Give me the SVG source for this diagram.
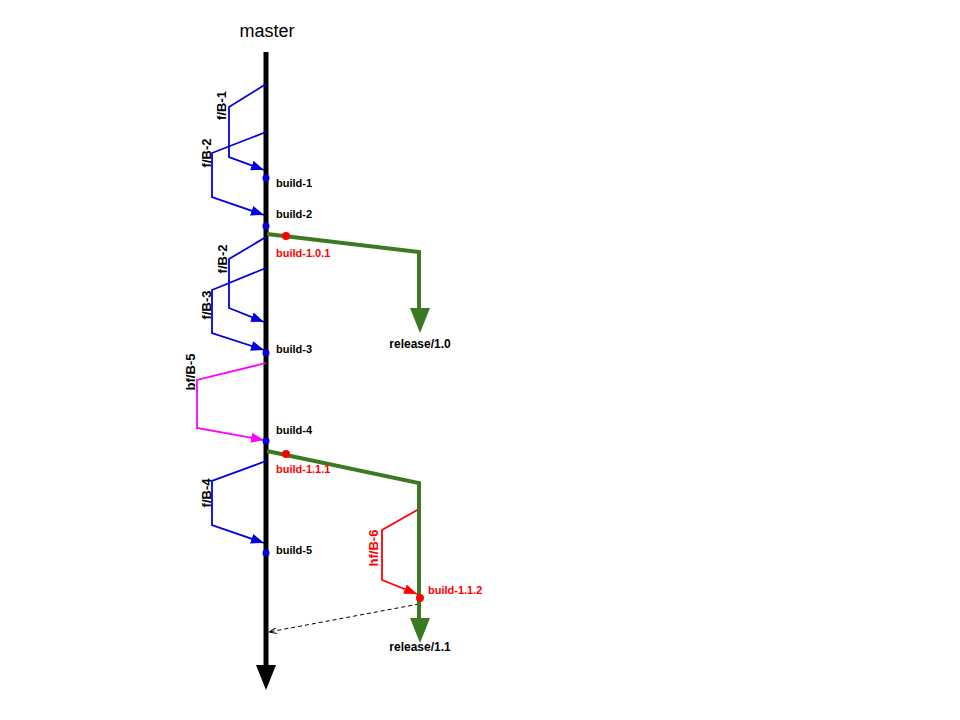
<svg xmlns="http://www.w3.org/2000/svg" width="960" height="720" viewBox="0 0 960 720">
<style>
.lbl{font-family:"Liberation Sans",Arial,sans-serif;font-weight:bold;font-size:11px;fill:#000}
.red{fill:#ff0000}
.rot{font-family:"Liberation Sans",Arial,sans-serif;font-weight:bold;font-size:13px;text-anchor:middle}
.rel{font-family:"Liberation Sans",Arial,sans-serif;font-weight:bold;font-size:12px;text-anchor:middle;fill:#000}
.blue{fill:none;stroke:#0000e0;stroke-width:1.8}
.mag{fill:none;stroke:#ff00ff;stroke-width:1.8}
.hf{fill:none;stroke:#ff0000;stroke-width:1.8}
.grn{fill:none;stroke:#3b7a22;stroke-width:4}
</style>
<defs>
<marker id="ab" viewBox="0 0 13 10" markerWidth="13" markerHeight="10" refX="13" refY="5" orient="auto" markerUnits="userSpaceOnUse"><path d="M0,0 L13,5 L0,10 z" fill="#0000e0"/></marker>
<marker id="am" viewBox="0 0 13 10" markerWidth="13" markerHeight="10" refX="13" refY="5" orient="auto" markerUnits="userSpaceOnUse"><path d="M0,0 L13,5 L0,10 z" fill="#ff00ff"/></marker>
<marker id="ar" viewBox="0 0 13 10" markerWidth="13" markerHeight="10" refX="13" refY="5" orient="auto" markerUnits="userSpaceOnUse"><path d="M0,0 L13,5 L0,10 z" fill="#ff0000"/></marker>
<marker id="ad" viewBox="0 0 8 6" markerWidth="8" markerHeight="6" refX="8" refY="3" orient="auto" markerUnits="userSpaceOnUse"><path d="M0,0 L8,3 L0,6" fill="none" stroke="#000" stroke-width="1"/></marker>
</defs>
<rect width="960" height="720" fill="#fff"/>

<g id="master">
<text x="267" y="37" font-family="Liberation Sans, Arial, sans-serif" font-size="18" text-anchor="middle">master</text>
<line x1="266" y1="52" x2="266" y2="667" stroke="#000" stroke-width="5"/>
<polygon points="256,665 276,665 266,690" fill="#000"/>
</g>

<g id="connectors">
<path class="blue" d="M266,84 L229,107 L229,157 L264,170" marker-end="url(#ab)"/>
<path class="blue" d="M266,132 L212,153 L212,197 L264,215" marker-end="url(#ab)"/>
<path class="blue" d="M266,237 L229,259 L229,308 L264,322" marker-end="url(#ab)"/>
<path class="blue" d="M266,268 L212,290 L212,333 L264,350" marker-end="url(#ab)"/>
<path class="mag" d="M266,363 L197,380 L197,428 L264,440" marker-end="url(#am)"/>
<path class="blue" d="M266,461 L212,481 L212,525 L264,543" marker-end="url(#ab)"/>
<path class="hf" d="M419,509 L382,530 L382,580 L417,594" marker-end="url(#ar)"/>
<path d="M419,604 L269,632" fill="none" stroke="#000" stroke-width="1" stroke-dasharray="4,3" marker-end="url(#ad)"/>
</g>

<g id="release-1.0">
<path class="grn" d="M267,234 L419,252 L419,310"/>
<polygon points="410,308 430,308 420,333" fill="#3b7a22"/>
<text class="rel" x="420" y="348">release/1.0</text>
</g>

<g id="release-1.1">
<path class="grn" d="M267,451 L419,483 L419,620"/>
<polygon points="410,618 430,618 420,643" fill="#3b7a22"/>
<text class="rel" x="420" y="651">release/1.1</text>
</g>

<g id="f-B-1"><text class="rot" fill="#000" transform="translate(226,105.5) rotate(-90)">f/B-1</text></g>
<g id="f-B-2a"><text class="rot" fill="#000" transform="translate(211,153) rotate(-90)">f/B-2</text></g>
<g id="f-B-2b"><text class="rot" fill="#000" transform="translate(227,259) rotate(-90)">f/B-2</text></g>
<g id="f-B-3"><text class="rot" fill="#000" transform="translate(211,305) rotate(-90)">f/B-3</text></g>
<g id="bf-B-5"><text class="rot" fill="#000" transform="translate(195,372) rotate(-90)">bf/B-5</text></g>
<g id="f-B-4"><text class="rot" fill="#000" transform="translate(211,493) rotate(-90)">f/B-4</text></g>
<g id="hf-B-6"><text class="rot" fill="#ff0000" transform="translate(378,548) rotate(-90)">hf/B-6</text></g>

<g id="build-1"><circle cx="266" cy="178" r="3.5" fill="#0000e0"/><text class="lbl" x="276" y="187">build-1</text></g>
<g id="build-2"><circle cx="266" cy="226" r="3.5" fill="#0000e0"/><text class="lbl" x="276" y="218">build-2</text></g>
<g id="build-1.0.1"><circle cx="286" cy="236" r="4" fill="#ff0000"/><text class="lbl red" x="276" y="257">build-1.0.1</text></g>
<g id="build-3"><circle cx="266" cy="353" r="3.5" fill="#0000e0"/><text class="lbl" x="276" y="353">build-3</text></g>
<g id="build-4"><circle cx="266" cy="441" r="3.5" fill="#0000e0"/><text class="lbl" x="276" y="434">build-4</text></g>
<g id="build-1.1.1"><circle cx="286" cy="454" r="4" fill="#ff0000"/><text class="lbl red" x="276" y="473">build-1.1.1</text></g>
<g id="build-5"><circle cx="266" cy="553" r="3.5" fill="#0000e0"/><text class="lbl" x="276" y="554">build-5</text></g>
<g id="build-1.1.2"><circle cx="420" cy="598" r="4" fill="#ff0000"/><text class="lbl red" x="428" y="594">build-1.1.2</text></g>
</svg>
